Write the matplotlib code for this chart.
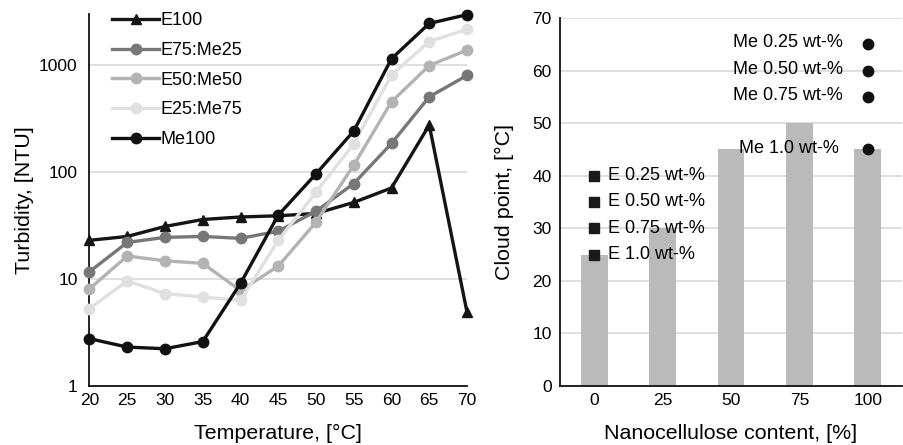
import numpy as np
import matplotlib
matplotlib.use("Agg")
import matplotlib.pyplot as plt
from matplotlib.ticker import FixedLocator, FixedFormatter, NullLocator

plt.rcParams['font.family'] = ['Liberation Sans', 'DejaVu Sans']

# turbidity vs temperature
temps = [20, 25, 30, 35, 40, 45, 50, 55, 60, 65, 70]
e100 = [23, 25, 31, 36, 38, 39, 41, 52, 71, 275, 4.9]
e75_me25 = [11.7, 22, 24.5, 25, 24, 28, 43, 78, 185, 505, 800]
e50_me50 = [8.1, 16.4, 14.8, 14, 7.8, 13.2, 34, 116, 454, 990, 1380]
e25_me75 = [5.3, 9.6, 7.3, 6.8, 6.3, 23, 65, 183, 806, 1660, 2160]
me100 = [2.77, 2.31, 2.23, 2.6, 9.1, 39.6, 96, 242, 1146, 2450, 2960]

series_names = ["E100", "E75:Me25", "E50:Me50", "E25:Me75", "Me100"]
series_colors = ["#151515", "#777777", "#b3b3b3", "#e0e0e0", "#111111"]
series_markers = ["^", "o", "o", "o", "o"]

# cloud point vs nanocellulose content
nc_labels = ["0", "25", "50", "75", "100"]
cloud_point = [25, 30, 45, 50, 45]
e_labels = ["E 0.25 wt-%", "E 0.50 wt-%", "E 0.75 wt-%", "E 1.0 wt-%"]
e_values = [40, 35, 30, 25]
me_labels = ["Me 0.25 wt-%", "Me 0.50 wt-%", "Me 0.75 wt-%", "Me 1.0 wt-%"]
me_values = [65, 60, 55, 45]

fig = plt.figure(figsize=(9.04, 4.45), dpi=100)
ax1 = fig.add_axes([0.099, 0.1326, 0.4176, 0.8359])
ax2 = fig.add_axes([0.6195, 0.1326, 0.3783, 0.8270])

grid_c = "#d9d9d9"

# left panel
all_series = [e100, e75_me25, e50_me50, e25_me75, me100]
for ys, name, c, m in zip(all_series, series_names, series_colors, series_markers):
    ax1.plot(temps, ys, color=c, marker=m, markersize=7.5, lw=2.4, label=name,
             clip_on=False, zorder=3)
ax1.set_yscale("log")
ax1.set_ylim(1, 3000)
ax1.set_xlim(20, 70)
ax1.yaxis.set_major_locator(FixedLocator([1, 10, 100, 1000]))
ax1.yaxis.set_major_formatter(FixedFormatter(["1", "10", "100", "1000"]))
ax1.yaxis.set_minor_locator(NullLocator())
ax1.set_xticks(temps)
ax1.grid(axis="y", color=grid_c, lw=1.2)
ax1.set_axisbelow(True)
ax1.set_xlabel("Temperature, [°C]", fontsize=15.4)
ax1.set_ylabel("Turbidity, [NTU]", fontsize=15.4)
ax1.xaxis.set_label_coords(0.5, -0.102)
ax1.yaxis.set_label_coords(-0.147, 0.5)
ax1.tick_params(axis="both", length=0, labelsize=12.5)
ax1.tick_params(axis="y", pad=8.5)
ax1.tick_params(axis="x", pad=5)
leg = ax1.legend(loc="upper left", bbox_to_anchor=(0.041, 1.024), frameon=False,
                 fontsize=13, handlelength=2.6, handletextpad=0.1,
                 labelspacing=0.70, borderaxespad=0)

# right panel
x = np.arange(len(nc_labels))
ax2.bar(x, cloud_point, width=0.39, color="#bababa", zorder=2)
ax2.plot([0] * len(e_values), e_values, "s", color="#1a1a1a", markersize=7.5, zorder=4)
ax2.plot([x[-1]] * len(me_values), me_values, "o", color="#111111", markersize=7.5,
         zorder=4)
for lab, v in zip(e_labels, e_values):
    ax2.annotate(lab, (0, v), xytext=(10, 0), textcoords="offset points",
                 ha="left", va="center", fontsize=13, zorder=5)
for lab, v in zip(me_labels, me_values):
    dx = -21 if lab.startswith("Me 1.0") else -18
    ax2.annotate(lab, (x[-1], v), xytext=(dx, 1), textcoords="offset points",
                 ha="right", va="center", fontsize=13, zorder=5)
ax2.set_xlim(-0.5, 4.5)
ax2.set_ylim(0, 70)
ax2.set_yticks(range(0, 71, 10))
ax2.set_xticks(x)
ax2.set_xticklabels(nc_labels)
ax2.grid(axis="y", color=grid_c, lw=1.2)
ax2.set_axisbelow(True)
ax2.set_xlabel("Nanocellulose content, [%]", fontsize=15.4)
ax2.set_ylabel("Cloud point, [°C]", fontsize=15.4)
ax2.xaxis.set_label_coords(0.5, -0.103)
ax2.yaxis.set_label_coords(-0.134, 0.5)
ax2.tick_params(axis="both", length=0, labelsize=12.5)
ax2.tick_params(axis="y", pad=6)
ax2.tick_params(axis="x", pad=5)

for ax in (ax1, ax2):
    for s in ("top", "right"):
        ax.spines[s].set_visible(False)
    for s in ("left", "bottom"):
        ax.spines[s].set_color("#111111")
        ax.spines[s].set_linewidth(1.3)

fig.savefig("out.png", dpi=100)
